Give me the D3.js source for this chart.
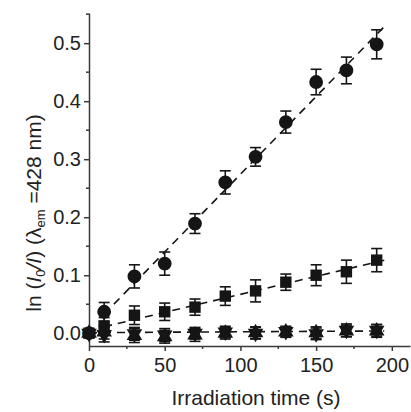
<!DOCTYPE html>
<html>
<head>
<meta charset="utf-8">
<script src="https://cdn.jsdelivr.net/npm/d3@7/dist/d3.min.js"></script>
<style>
  body { margin: 0; background: #fff; }
  svg { display: block; font-family: "Liberation Sans", Arial, sans-serif; }
</style>
</head>
<body>
<svg id="chart"></svg>
<script>
// irradiation times (s)
const times = [0, 10, 30, 50, 70, 90, 110, 130, 150, 170, 190]

// ln(I0/I) per series
const circleVals = [0, 0.037, 0.098, 0.12, 0.189, 0.26, 0.304, 0.364, 0.433, 0.453, 0.498]
const circleErr  = [0.004, 0.016, 0.02, 0.02, 0.017, 0.02, 0.016, 0.019, 0.022, 0.023, 0.025]
const squareVals = [0, 0.012, 0.031, 0.037, 0.045, 0.064, 0.073, 0.088, 0.1, 0.106, 0.126]
const squareErr  = [0.004, 0.015, 0.016, 0.015, 0.014, 0.016, 0.019, 0.014, 0.018, 0.02, 0.02]
const triUpVals  = [0, 0.002, -0.004, -0.006, -0.003, 0, 0.001, 0.002, 0.001, 0.004, 0.004]
const triUpErr   = [0.004, 0.012, 0.012, 0.011, 0.011, 0.01, 0.01, 0.009, 0.01, 0.01, 0.011]
const triDnVals  = [0, -0.002, -0.001, -0.003, 0, 0.002, 0, 0.003, -0.001, 0.005, 0.005]
const triDnErr   = [0.004, 0.013, 0.011, 0.011, 0.01, 0.01, 0.01, 0.009, 0.01, 0.011, 0.01]

// dashed linear fits: [t start, t end, intercept, slope]
const fitCircle = [10, 195, 0.006, 0.00268]
const fitSquare = [10, 195, 0.005, 0.00062]
const fitFlat   = [0, 195, 0.001, 0.000015]

const xTicks = [0, 50, 100, 150, 200]
const xMinor = [25, 75, 125, 175]
const yTicks = [0, 0.1, 0.2, 0.3, 0.4, 0.5]
const yMinor = [0.05, 0.15, 0.25, 0.35, 0.45, 0.55]

let configuration = {
  "width": 411,
  "height": 412,
  "ink": "#151515",
  "axis": "#3a3a3a",
  "tickFont": "20px",
  "titleFont": "21px"
}

const svg = d3.select("#chart")
  .attr("width", configuration.width)
  .attr("height", configuration.height)

const x = d3.scaleLinear().domain([0, 212]).range([89, 410])
const y = d3.scaleLinear().domain([-0.022, 0.552]).range([346, 13])

// axes
const xAxis = svg.append("g").attr("transform", `translate(0,${y.range()[0]})`)
xAxis.call(d3.axisBottom(x).tickValues(xTicks).tickSize(5).tickPadding(7).tickSizeOuter(0).tickFormat(d3.format("d")))
xAxis.selectAll(".minor").data(xMinor).enter().append("line")
  .attr("class", "minor")
  .attr("x1", d => x(d)).attr("x2", d => x(d))
  .attr("y1", 0).attr("y2", 3)

const yAxis = svg.append("g").attr("transform", `translate(${x(0)},0)`)
yAxis.call(d3.axisLeft(y).tickValues(yTicks).tickSize(5).tickPadding(3).tickSizeOuter(0).tickFormat(d3.format(".1f")))
yAxis.selectAll(".minor").data(yMinor).enter().append("line")
  .attr("class", "minor")
  .attr("y1", d => y(d)).attr("y2", d => y(d))
  .attr("x1", 0).attr("x2", -3)

svg.selectAll(".domain, .tick line, .minor")
  .attr("stroke", configuration.axis)
  .attr("stroke-width", 1.5)
svg.selectAll(".tick text")
  .attr("fill", "#222")
  .style("font-size", configuration.tickFont)

// axis titles
svg.append("text")
  .attr("x", 256).attr("y", 405)
  .attr("text-anchor", "middle")
  .attr("fill", "#222")
  .style("font-size", configuration.titleFont)
  .text("Irradiation time (s)")

const yTitle = svg.append("text")
  .attr("transform", "translate(41,213) rotate(-90)")
  .attr("text-anchor", "middle")
  .attr("fill", "#222")
  .style("font-size", configuration.titleFont)
yTitle.append("tspan").text("ln (")
yTitle.append("tspan").attr("font-style", "italic").text("I")
yTitle.append("tspan").attr("dy", 4).style("font-size", "13px").text("0")
yTitle.append("tspan").attr("dy", -4).attr("font-style", "italic").text("/I")
yTitle.append("tspan").text(") (λ")
yTitle.append("tspan").attr("dy", 4).style("font-size", "13px").text("em")
yTitle.append("tspan").attr("dy", -4).text(" =428 nm)")

// dashed fits
const fits = [fitFlat, fitSquare, fitCircle]
svg.append("g").selectAll(".fit")
  .data(fits)
  .enter()
  .append("line")
  .attr("class", "fit")
  .attr("x1", d => x(d[0])).attr("x2", d => x(d[1]))
  .attr("y1", d => y(d[2] + d[3] * d[0])).attr("y2", d => y(d[2] + d[3] * d[1]))
  .attr("stroke", configuration.ink)
  .attr("stroke-width", 1.6)
  .attr("stroke-dasharray", "8,6")

const series = [
  { vals: triUpVals, err: triUpErr, sym: d3.symbolTriangle, size: 105, rot: 0 },
  { vals: triDnVals, err: triDnErr, sym: d3.symbolTriangle, size: 105, rot: 180 },
  { vals: squareVals, err: squareErr, sym: d3.symbolSquare, size: 130, rot: 0 },
  { vals: circleVals, err: circleErr, sym: d3.symbolCircle, size: 150, rot: 0 }
]

series.forEach(s => {
  const pts = times.map((t, i) => ({ t: t, v: s.vals[i], e: s.err[i] }))
  const g = svg.append("g")
  const bars = g.selectAll(".err").data(pts).enter().append("g").attr("class", "err")
    .attr("stroke", configuration.ink).attr("stroke-width", 1.6)
  bars.append("line")
    .attr("x1", d => x(d.t)).attr("x2", d => x(d.t))
    .attr("y1", d => y(d.v - d.e)).attr("y2", d => y(d.v + d.e))
  bars.append("line")
    .attr("x1", d => x(d.t) - 5.5).attr("x2", d => x(d.t) + 5.5)
    .attr("y1", d => y(d.v + d.e)).attr("y2", d => y(d.v + d.e))
  bars.append("line")
    .attr("x1", d => x(d.t) - 5.5).attr("x2", d => x(d.t) + 5.5)
    .attr("y1", d => y(d.v - d.e)).attr("y2", d => y(d.v - d.e))
  g.selectAll(".pt").data(pts).enter().append("path")
    .attr("class", "pt")
    .attr("d", d3.symbol().type(s.sym).size(s.size))
    .attr("transform", d => `translate(${x(d.t)},${y(d.v)}) rotate(${s.rot})`)
    .attr("fill", configuration.ink)
})
</script>
</body>
</html>
